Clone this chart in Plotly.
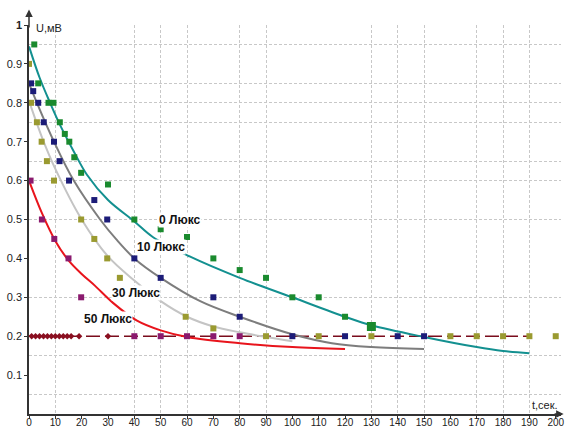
import plotly.graph_objects as go

# ---- fitted curves ----
c0_x = [0, 4, 8, 12, 17, 22, 30, 40, 47, 61, 80, 100, 120, 130, 150, 170, 180, 190]
c0_y = [0.945, 0.865, 0.80, 0.74, 0.675, 0.615, 0.55, 0.495, 0.455, 0.405, 0.35, 0.30, 0.25, 0.228, 0.198, 0.172, 0.162, 0.156]

c10_x = [0, 3, 9.5, 17, 27, 33, 40, 50, 65, 80, 100, 115, 130, 150]
c10_y = [0.85, 0.80, 0.70, 0.60, 0.50, 0.45, 0.40, 0.35, 0.29, 0.25, 0.205, 0.182, 0.172, 0.167]

c30_x = [0, 5, 10, 20, 30, 40, 50, 60, 70, 80, 90, 100]
c30_y = [0.805, 0.71, 0.63, 0.50, 0.405, 0.343, 0.29, 0.25, 0.225, 0.21, 0.198, 0.187]

c50_x = [0, 5, 10, 15, 20, 25, 32, 41, 50, 60, 80, 100, 120]
c50_y = [0.60, 0.515, 0.445, 0.395, 0.36, 0.33, 0.285, 0.24, 0.215, 0.198, 0.182, 0.172, 0.167]

# ---- measured points ----
p0_x = [2, 3.5, 7.4, 9.3, 11.7, 13.6, 15.3, 17.2, 19.8, 30, 40, 50, 60, 70, 80, 90, 100, 110, 120]
p0_y = [0.95, 0.85, 0.80, 0.80, 0.75, 0.72, 0.70, 0.66, 0.62, 0.59, 0.50, 0.475, 0.455, 0.40, 0.37, 0.35, 0.30, 0.30, 0.25]
p0_big_x = [130]
p0_big_y = [0.225]

p10_x = [0.8, 1.6, 3.5, 5.6, 9.5, 11.6, 15.2, 24.8, 29.7, 40, 50, 70, 80, 100, 120, 140, 150]
p10_y = [0.85, 0.83, 0.80, 0.75, 0.70, 0.65, 0.60, 0.55, 0.50, 0.40, 0.35, 0.30, 0.25, 0.20, 0.20, 0.20, 0.20]

p30_x = [0, 0.8, 3, 4.8, 6.8, 9.5, 19.8, 24.8, 29.7, 34.5, 59.5, 70, 90, 110, 130, 160, 170, 180, 190, 200]
p30_y = [0.90, 0.80, 0.75, 0.70, 0.65, 0.60, 0.50, 0.45, 0.40, 0.35, 0.25, 0.22, 0.20, 0.20, 0.20, 0.20, 0.20, 0.20, 0.20, 0.20]

p50_x = [0.6, 4.9, 9.6, 15, 19.8, 40, 50, 60, 70, 80]
p50_y = [0.60, 0.50, 0.45, 0.40, 0.30, 0.20, 0.20, 0.20, 0.20, 0.20]

bg_x = [0, 190]
bg_y = [0.2, 0.2]
bgp_x = [1, 2.5, 4, 5.5, 7, 8.5, 10, 11.5, 13, 14.5, 16, 19, 30]
bgp_y = [0.2] * len(bgp_x)

labels = ["0 Люкс", "10 Люкс", "30 Люкс", "50 Люкс"]
label_x = [57.5, 50, 40.5, 30]
label_y = [0.50, 0.429, 0.311, 0.244]

x_ticks = list(range(0, 201, 10))
y_ticks = [0.1, 0.2, 0.3, 0.4, 0.5, 0.6, 0.7, 0.8, 0.9, 1.0]
y_ticktext = ["0.1", "0.2", "0.3", "0.4", "0.5", "0.6", "0.7", "0.8", "0.9", "<b>1</b>"]
grid_x = [10, 40, 50, 60, 80, 90, 130, 140, 150, 170, 180, 190]
grid_y = [0.05, 0.15, 0.3, 0.5, 0.6, 0.65, 0.75, 0.8, 0.85, 0.95, 1.0]

FONT = "Liberation Sans, Arial, sans-serif"

fig = go.Figure()
# dummy trace for gridline axes
fig.add_trace(go.Scatter(x=[None], y=[None], xaxis="x2", yaxis="y2", showlegend=False, hoverinfo="skip"))

fig.add_trace(go.Scatter(x=bg_x, y=bg_y, mode="lines", line=dict(color="#7a0c1c", width=1.5, dash="14px,5px"), showlegend=False))
fig.add_trace(go.Scatter(x=bgp_x, y=bgp_y, mode="markers", marker=dict(symbol="diamond", size=5, color="#8a0f20"), showlegend=False))

fig.add_trace(go.Scatter(x=c30_x, y=c30_y, mode="lines", line=dict(color="#c4c4c4", width=2, shape="spline"), showlegend=False))
fig.add_trace(go.Scatter(x=c10_x, y=c10_y, mode="lines", line=dict(color="#7d7d7d", width=2, shape="spline"), showlegend=False))
fig.add_trace(go.Scatter(x=c50_x, y=c50_y, mode="lines", line=dict(color="#e8141c", width=2, shape="spline"), showlegend=False))
fig.add_trace(go.Scatter(x=c0_x, y=c0_y, mode="lines", line=dict(color="#139090", width=2, shape="spline"), showlegend=False))

fig.add_trace(go.Scatter(x=p50_x, y=p50_y, mode="markers", marker=dict(symbol="square", size=6, color="#8a1a6e"), showlegend=False))
fig.add_trace(go.Scatter(x=p30_x, y=p30_y, mode="markers", marker=dict(symbol="square", size=6, color="#9a9a30"), showlegend=False))
fig.add_trace(go.Scatter(x=p10_x, y=p10_y, mode="markers", marker=dict(symbol="square", size=6, color="#1c1c78"), showlegend=False))
fig.add_trace(go.Scatter(x=p0_x, y=p0_y, mode="markers", marker=dict(symbol="square", size=6, color="#1a8a2e"), showlegend=False))
fig.add_trace(go.Scatter(x=p0_big_x, y=p0_big_y, mode="markers", marker=dict(symbol="square", size=9, color="#1a8a2e"), showlegend=False))

for t, x, y in zip(labels, label_x, label_y):
    fig.add_annotation(x=x, y=y, text="<b>" + t + "</b>", showarrow=False, bgcolor="white", borderpad=0,
                       font=dict(family=FONT, size=12, color="#111"))

# axis arrows
fig.add_annotation(x=0, y=1.04, ax=0, ay=0.99, xref="x", yref="y", axref="x", ayref="y", text="",
                   showarrow=True, arrowhead=2, arrowsize=1, arrowwidth=1.5, arrowcolor="#333")
fig.add_annotation(x=203, y=0, ax=199, ay=0, xref="x", yref="y", axref="x", ayref="y", text="",
                   showarrow=True, arrowhead=2, arrowsize=1, arrowwidth=1.5, arrowcolor="#333")
fig.add_annotation(x=2, y=1.013, xref="x", yref="paper", text="U,мВ", showarrow=False, xanchor="left",
                   font=dict(family=FONT, size=11, color="#222"))
fig.add_annotation(x=196, y=0.022, xref="x", yref="y", text="t,сек.", showarrow=False,
                   font=dict(family=FONT, size=11, color="#222"))

fig.update_layout(
    width=566, height=429,
    margin=dict(l=29, r=5, t=25, b=15, pad=0, autoexpand=False),
    plot_bgcolor="white", paper_bgcolor="white",
    font=dict(family=FONT, color="#222"),
    xaxis=dict(range=[0, 202], showline=True, linecolor="#333", linewidth=1.5, ticks="outside", ticklen=3,
               tickcolor="#333", tickvals=x_ticks, tickfont=dict(size=10), showgrid=False, zeroline=False,
               automargin=False, ticklabelstandoff=-5),
    yaxis=dict(range=[0, 1.0], showline=True, linecolor="#333", linewidth=1.5, ticks="outside", ticklen=3,
               tickcolor="#333", tickvals=y_ticks, ticktext=y_ticktext, tickfont=dict(size=11),
               showgrid=False, zeroline=False, automargin=False),
    xaxis2=dict(range=[0, 202], overlaying="x", tickvals=grid_x, showticklabels=False, ticks="",
                showgrid=True, gridcolor="#c8c8c8", gridwidth=1, griddash="3px,2px", zeroline=False, showline=False,
                automargin=False),
    yaxis2=dict(range=[0, 1.0], overlaying="y", tickvals=grid_y, showticklabels=False, ticks="",
                showgrid=True, gridcolor="#c8c8c8", gridwidth=1, griddash="3px,2px", zeroline=False, showline=False,
                automargin=False),
    showlegend=False,
)

fig.write_html("out.html", config={"displayModeBar": False},
               post_script="document.body.style.margin='0';document.body.style.overflow='hidden';")
